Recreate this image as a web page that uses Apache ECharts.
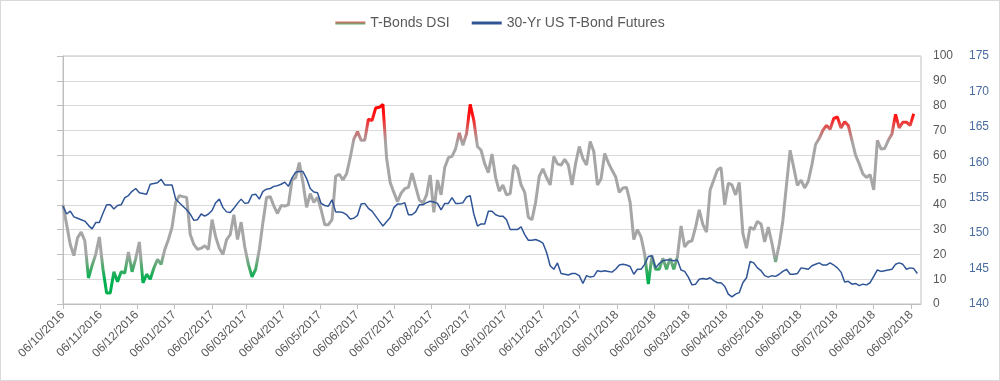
<!DOCTYPE html>
<html>
<head>
<meta charset="utf-8">
<script src="https://cdn.jsdelivr.net/npm/echarts@6/dist/echarts.min.js"></script>
<style>
html,body{margin:0;padding:0;background:#fff;}
#chart{width:1000px;height:381px;box-sizing:border-box;border:1px solid #d9d9d9;}
</style>
</head>
<body>
<div id="chart"></div>
<script>
// Sample dates: every 3 days from 06/10/2016
const startDate = '2016-10-06';
const stepDays = 3;
const axisStart = '2016-10-06';
const axisEnd = '2018-09-14';

const seriesNames = ['T-Bonds DSI', '30-Yr US T-Bond Futures'];

// T-Bonds DSI (0-100 scale)
const dsi = [
40,32,24,19.5,26.7,29,25.5,10.5,15.5,20,
27,14,4.4,4.4,13,9,13,12.5,21,13,
18.3,25,8.5,12,10,14.5,18,16,22,26,
31,41,43.7,43.3,43,28,24,22,22.5,23.5,
22,34,27,22.5,20,26,28,36,26,33,
23,16,11,14,22,33,43,43.3,39.5,36.5,
39.7,39.5,40,50,51,57,49,39,44.5,41,
43,38,32,32,34,51.5,52.3,50,52.5,59,
66.5,69.5,66,66,74.5,74,79,79.3,80.5,59,
49,45,41.3,44.7,46.5,47,52.8,47.3,42,40.7,
44,52,37,50,44,55,59,59.5,62.7,69,
64,68.7,80.5,74,63.5,62,56.5,53,60.5,51,
45.5,48,44,44.5,56,54.5,48,45,35,34,
41,51.5,54.5,51,48,59.5,56.5,56,58.3,56,
48,56.7,63.5,58.7,56,65.5,61.5,48,50.5,60.7,
57,54,51.3,45,46.8,47,41,26,30,27,
20,8,19.5,14,14,18.5,14,18.5,14,19,
31.5,23,25,25.5,31,38,32,29,46,50,
54,55,40,48.7,48,44,49,28.5,22.5,31,
30,33.3,32.3,25,31,24.5,17,24,33.5,48,
62,55,47.8,50,46.8,49.5,56.2,64.3,66.7,70,
72,70.5,74.8,75.4,71,73.5,72,66,60,56.5,
52.5,51,52.2,46,66,62.5,62.7,66,68.5,76.5,
71,73.3,73.3,72,76.7
];

// 30-Yr US T-Bond Futures (140-175 scale)
const futures = [
153.8,152.7,153.1,152.3,152.1,151.9,151.7,151.1,150.6,151.5,
151.5,152.8,154,154,153.4,153.9,154,155,155.3,155.9,
156.3,155.7,155.6,155.5,156.9,157,157.1,157.6,156.8,156.8,
156.8,154.8,154.3,153.8,153.3,152.7,151.8,151.9,152.7,152.4,
152.7,153.2,154.3,154.8,153.6,153,152.9,153.5,154.2,154.8,
154.2,154.3,155.4,155.5,154.8,155.9,156.2,156.3,156.6,156.7,
156.9,157.2,156.6,157.8,158.6,158.7,158.7,157.7,156.3,155.8,
155.7,154.2,153.9,153.8,154.7,153,153,152.9,152.6,152,
152.1,152.5,154.1,154.2,153.5,153.1,152.4,151.7,151,151.6,
152.2,153.6,154.1,154.1,154.3,152.6,152.6,153,154,154,
154.3,154.5,154.4,154.2,153.3,154.2,154.2,155,154.2,154.2,
154.3,155.1,155.3,152.7,151,151.3,151.3,153.1,153.1,152.6,
152.4,152.4,151.9,150.5,150.5,150.5,150.9,149.8,149,149,
149.1,148.9,148.6,147.3,145.4,144.9,145.8,144.3,144.2,144.1,
144.3,144.3,144,142.9,144,143.8,143.9,144.7,144.6,144.7,
144.6,144.5,144.9,145.5,145.6,145.5,145.3,144.2,144.9,144.9,
145.6,146.7,146.8,145.1,145.7,146.1,146.2,146.2,146.1,146.2,
144.8,144.6,143.8,142.7,142.8,143.5,143.6,143.5,143.7,143.3,
143,143,142.5,141.4,141,141.4,141.6,143,143.7,146,
145.8,145.1,144.7,144,143.8,144,143.9,144.2,144.6,144.9,
144.2,144.2,144.3,145.1,145,144.9,145.4,145.6,145.8,145.5,
145.5,145.8,145.5,145.1,144.5,143.1,143.2,142.8,142.9,142.6,
142.8,142.7,143,143.9,144.8,144.6,144.7,144.8,144.9,145.6,
145.8,145.6,144.9,145.1,145,144.3
];

// X tick labels
const tickLabels = [
'06/10/2016','06/11/2016','06/12/2016','06/01/2017','06/02/2017','06/03/2017',
'06/04/2017','06/05/2017','06/06/2017','06/07/2017','06/08/2017','06/09/2017',
'06/10/2017','06/11/2017','06/12/2017','06/01/2018','06/02/2018','06/03/2018',
'06/04/2018','06/05/2018','06/06/2018','06/07/2018','06/08/2018','06/09/2018'
];

const DAY = 86400000;
function isoToUTC(s){const p=s.split('-').map(Number);return Date.UTC(p[0],p[1]-1,p[2]);}
function labelToUTC(s){const p=s.split('/').map(Number);return Date.UTC(p[2],p[1]-1,p[0]);}
function pad(n){return (n<10?'0':'')+n;}
function fmt(t){const d=new Date(t);return pad(d.getUTCDate())+'/'+pad(d.getUTCMonth()+1)+'/'+d.getUTCFullYear();}

const t0 = isoToUTC(startDate);
const dsiData = dsi.map((v,i)=>[t0 + i*stepDays*DAY, v]);
const futData = futures.map((v,i)=>[t0 + i*stepDays*DAY, v]);
const tickTimes = tickLabels.map(labelToUTC);

const FONT = 'Liberation Sans';
const chart = echarts.init(document.getElementById('chart'), null, {renderer:'canvas'});
chart.setOption({
  animation:false,
  backgroundColor:'#ffffff',
  textStyle:{fontFamily:FONT},
  legend:{
    top:10, left:'center', itemGap:22, itemWidth:30, itemHeight:3,
    textStyle:{color:'#595959', fontSize:14, fontFamily:FONT},
    data:[
      {name:seriesNames[0], icon:'rect', itemStyle:{color:new echarts.graphic.LinearGradient(0,0,0,1,[{offset:0,color:'#e06060'},{offset:1,color:'#60b070'}])}},
      {name:seriesNames[1], icon:'rect', itemStyle:{color:'#2f5597'}}
    ]
  },
  grid:{left:62, right:78, top:55, bottom:76, show:true, borderColor:'#bfbfbf', borderWidth:1},
  visualMap:[{
    type:'continuous', show:false, seriesIndex:0, dimension:1, min:5, max:80,
    inRange:{color:['#00b050','#00b050','#50aa6c','#a6a6a6','#a6a6a6','#a6a6a6','#a6a6a6','#a6a6a6','#a6a6a6','#a6a6a6','#a6a6a6','#a6a6a6','#a6a6a6','#cf6a6a','#ff1a1a','#ff0000']},
    outOfRange:{color:['#00b050']}
  }],
  xAxis:{
    type:'value', min:isoToUTC(axisStart), max:isoToUTC(axisEnd),
    axisLine:{show:true, lineStyle:{color:'#bfbfbf'}},
    axisTick:{show:true, length:5, customValues:tickTimes, lineStyle:{color:'#bfbfbf'}},
    splitLine:{show:false},
    axisLabel:{customValues:tickTimes, rotate:45, margin:9, color:'#595959', fontSize:12, fontFamily:FONT, formatter:function(v){return fmt(v);}}
  },
  yAxis:[
    {type:'value', position:'left', min:0, max:100, interval:10,
     axisLine:{show:true, lineStyle:{color:'#bfbfbf'}},
     axisTick:{show:true, length:6, lineStyle:{color:'#bfbfbf'}},
     axisLabel:{show:false},
     splitLine:{show:true, lineStyle:{color:'#d9d9d9'}}},
    {type:'value', position:'right', min:140, max:175, interval:5, offset:0,
     axisLine:{show:false}, axisTick:{show:false}, splitLine:{show:false},
     axisLabel:{margin:48, color:'#4a6c9e', fontSize:12, fontFamily:FONT}},
    {type:'value', position:'right', min:0, max:100, interval:10, offset:0,
     axisLine:{show:false}, axisTick:{show:false}, splitLine:{show:false},
     axisLabel:{margin:12, color:'#595959', fontSize:12, fontFamily:FONT}}
  ],
  series:[
    {name:seriesNames[0], type:'line', yAxisIndex:0, data:dsiData, showSymbol:false, symbol:'none',
     lineStyle:{width:3}, z:2},
    {name:seriesNames[1], type:'line', yAxisIndex:1, data:futData, showSymbol:false, symbol:'none',
     lineStyle:{width:1.5, color:'#2f5597'}, itemStyle:{color:'#2f5597'}, z:3}
  ]
});
</script>
</body>
</html>
